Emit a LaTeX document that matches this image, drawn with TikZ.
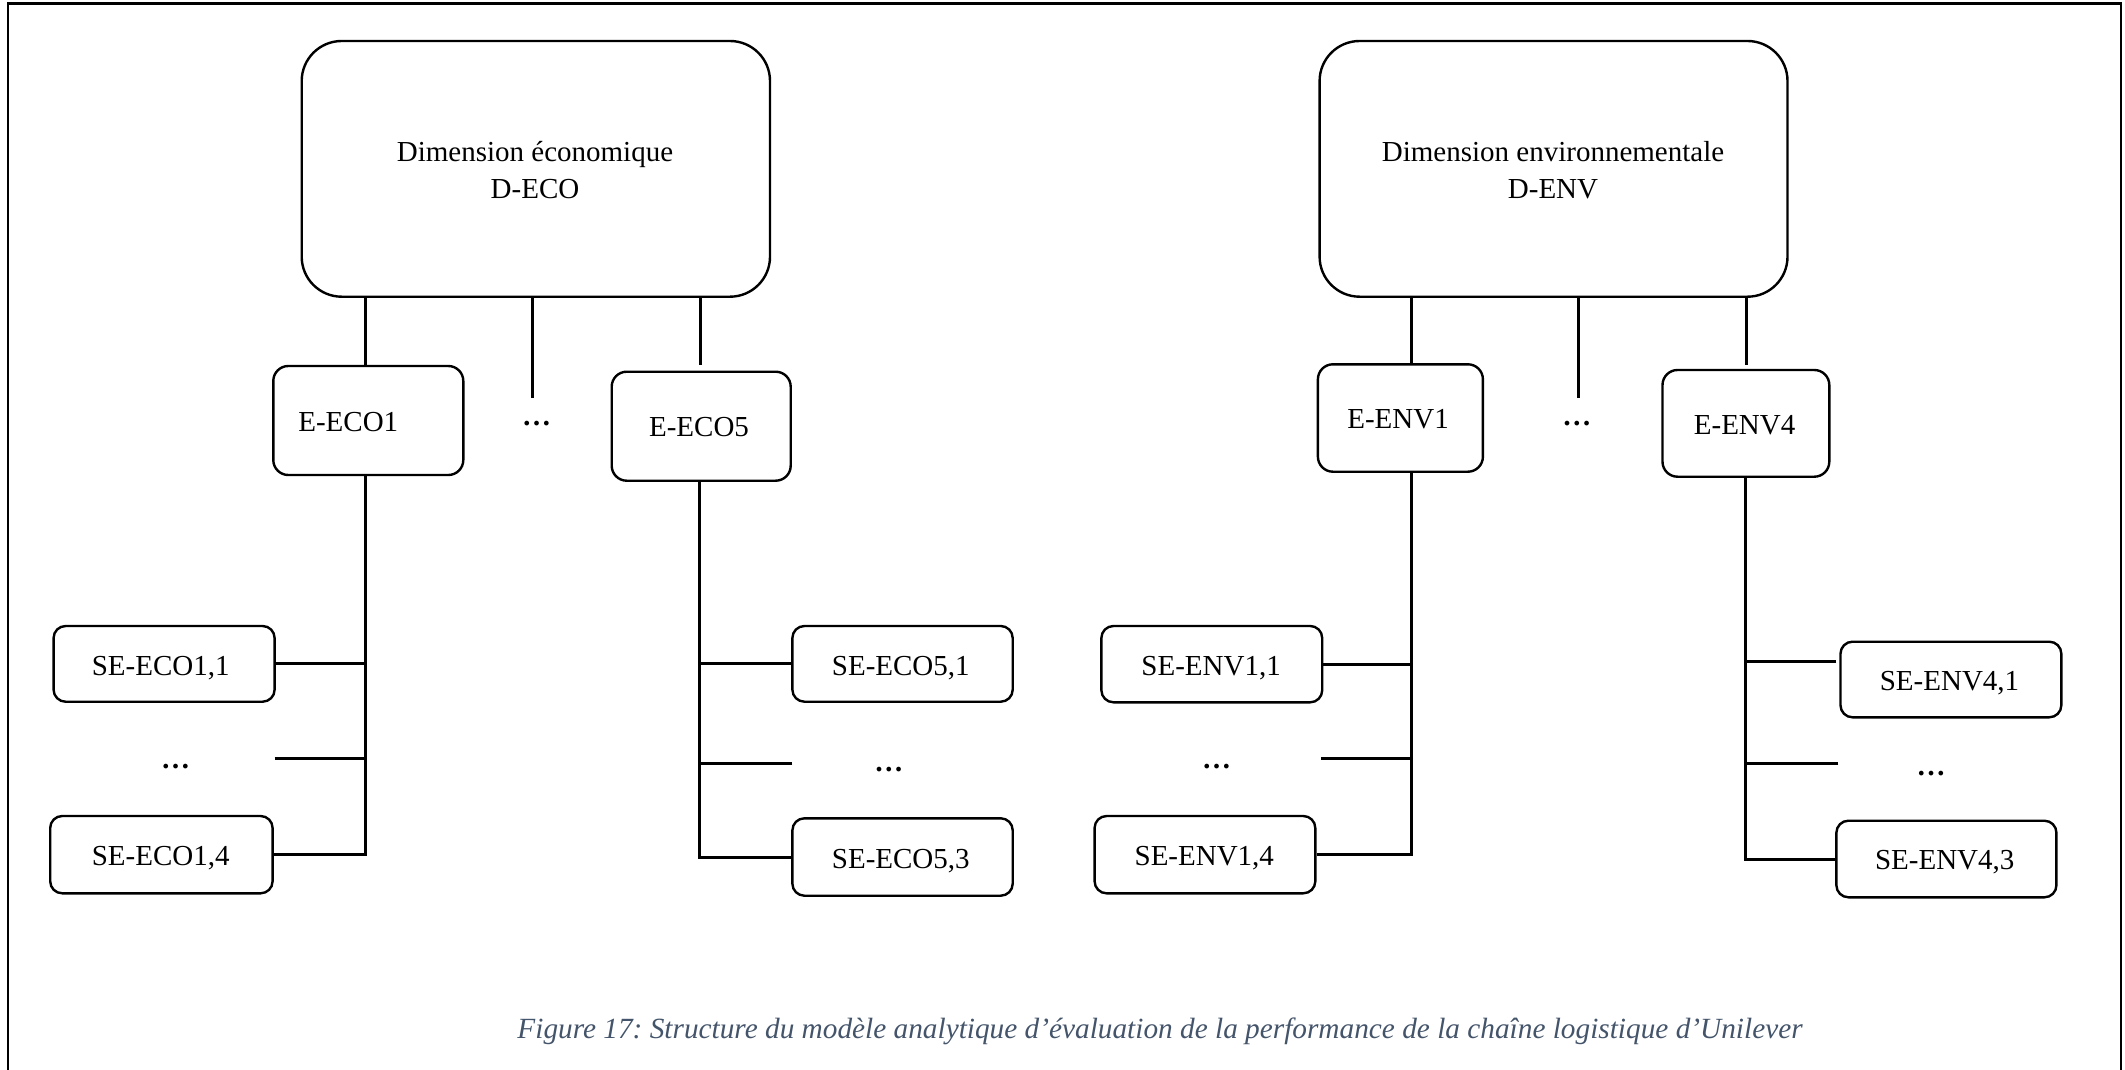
\documentclass[tikz,border=0pt]{standalone}
\usepackage{fontspec}
\setmainfont{Liberation Serif}
\usetikzlibrary{fit}
\definecolor{capcol}{HTML}{44546A}
\frenchspacing

\begin{document}
\begin{tikzpicture}[x=0.5pt,y=-0.5pt,
  bigbox/.style={draw, line width=1.2pt, rounded corners=20pt, inner sep=0pt},
  midbox/.style={draw, line width=1.2pt, rounded corners=7.5pt, inner sep=0pt},
  subbox/.style={draw, line width=1.2pt, rounded corners=6pt, inner sep=0pt},
  lbl/.style={font=\fontsize{14.5}{18.2}\selectfont, inner sep=0pt, anchor=base},
  dots/.style={font=\fontsize{14.5}{18.2}\selectfont\bfseries, inner sep=0pt, anchor=base},
  link/.style={line width=1.5pt},
]
\useasboundingbox (0,0) rectangle (2125,1070);

% outer frame (open at the bottom)
\draw[line width=1.15pt] (8,1075) -- (8,3.5) -- (2120.7,3.5) -- (2120.7,1075);

% ---------------- dimension boxes
\node[bigbox, fit={(301.7,41) (770,296.7)}] (deco) {};
\node[lbl, anchor=center, align=center] (tdeco) at (535,170) {Dimension économique\\D-ECO};
\node[bigbox, fit={(1319.6,41) (1787.5,296.7)}] (denv) {};
\node[lbl, anchor=center, align=center] (tdenv) at (1553,170) {Dimension environnementale\\D-ENV};

% ---------------- element boxes
\node[midbox, fit={(273.3,366) (463.3,475)}] (eeco1) {};
\node[lbl] (teeco1) at (348.3,431) {E-ECO1};
\node[dots] (dotseco) at (536.7,425) {…};
\node[midbox, fit={(611.7,371.7) (790.7,480.7)}] (eeco5) {};
\node[lbl] (teeco5) at (699,436.7) {E-ECO5};

\node[midbox, fit={(1317.9,364.3) (1482.9,471.7)}] (eenv1) {};
\node[lbl] (teenv1) at (1398,428.3) {E-ENV1};
\node[dots] (dotsenv) at (1576.8,425) {…};
\node[midbox, fit={(1662.5,370) (1829.3,476.7)}] (eenv4) {};
\node[lbl] (teenv4) at (1744.6,434) {E-ENV4};

% ---------------- sub-element boxes
\node[subbox, fit={(53.6,626) (274.6,701.7)}] (se11) {};
\node[lbl] (tse11) at (160.7,675) {SE-ECO1,1};
\node[dots] (dse1) at (175.5,768) {…};
\node[subbox, fit={(50.2,816) (272.6,893.3)}] (se14) {};
\node[lbl] (tse14) at (160.7,865.5) {SE-ECO1,4};

\node[subbox, fit={(792.4,626) (1012.7,701.7)}] (se51) {};
\node[lbl] (tse51) at (900.8,675) {SE-ECO5,1};
\node[dots] (dse5) at (888.8,771.5) {…};
\node[subbox, fit={(792.4,818.3) (1012.7,895.7)}] (se53) {};
\node[lbl] (tse53) at (900.8,868.3) {SE-ECO5,3};

\node[subbox, fit={(1101.4,626) (1322.2,702.3)}] (sv11) {};
\node[lbl] (tsv11) at (1211.1,675) {SE-ENV1,1};
\node[dots] (dsv1) at (1216.6,768) {…};
\node[subbox, fit={(1094.6,816) (1315.3,893.3)}] (sv14) {};
\node[lbl] (tsv14) at (1204.3,865.5) {SE-ENV1,4};

\node[subbox, fit={(1840.5,641.7) (2061.3,717.3)}] (sv41) {};
\node[lbl] (tsv41) at (1949.5,690) {SE-ENV4,1};
\node[dots] (dsv4) at (1931,775.5) {…};
\node[subbox, fit={(1836.4,820.7) (2056.4,897.3)}] (sv43) {};
\node[lbl] (tsv43) at (1944.7,869.3) {SE-ENV4,3};

% ---------------- connector ends
\coordinate (ka) at (365.5,0);
\coordinate (kb) at (699,0);
\coordinate (kc) at (1411.5,0);
\coordinate (kd) at (1745,0);
\coordinate (meco) at (532.5,398);
\coordinate (reco) at (700,365);
\coordinate (menv) at (1578.6,398);
\coordinate (renv) at (1746.4,365);
\coordinate (gse1) at (274.6,758.3);
\coordinate (gse5) at (792.4,763.3);
\coordinate (gsv1) at (1320.8,758.3);
\coordinate (gsv4) at (1838.4,763.3);
\coordinate (hsv41) at (1836.4,661);

% ---------------- dimension to elements
\draw[link] (deco.south -| ka) -- (eeco1.north -| ka);
\draw[link] (deco.south -| meco) -- (meco);
\draw[link] (deco.south -| reco) -- (reco);
\draw[link] (denv.south -| kc) -- (eenv1.north -| kc);
\draw[link] (denv.south -| menv) -- (menv);
\draw[link] (denv.south -| renv) -- (renv);

% ---------------- elements to sub-elements
\draw[link] (eeco1.south -| ka) -- (se14.east -| ka) -- (se14.east);
\draw[link] (se11.east) -- (se11.east -| ka);
\draw[link] (gse1) -- (gse1 -| ka);

\draw[link] (eeco5.south -| kb) -- (se53.west -| kb) -- (se53.west);
\draw[link] (se51.west) -- (se51.west -| kb);
\draw[link] (gse5) -- (gse5 -| kb);

\draw[link] (eenv1.south -| kc) -- (sv14.east -| kc) -- (sv14.east);
\draw[link] (sv11.east) -- (sv11.east -| kc);
\draw[link] (gsv1) -- (gsv1 -| kc);

\draw[link] (eenv4.south -| kd) -- (sv43.west -| kd) -- (sv43.west);
\draw[link] (hsv41) -- (hsv41 -| kd);
\draw[link] (gsv4) -- (gsv4 -| kd);

% ---------------- caption
\node[font=\fontsize{14.65}{17}\selectfont\itshape, text=capcol, inner sep=0pt, anchor=base] (cap) at (1160,1038)
  {Figure 17: Structure du modèle analytique d’évaluation de la performance de la chaîne logistique d’Unilever};
\end{tikzpicture}
\end{document}
